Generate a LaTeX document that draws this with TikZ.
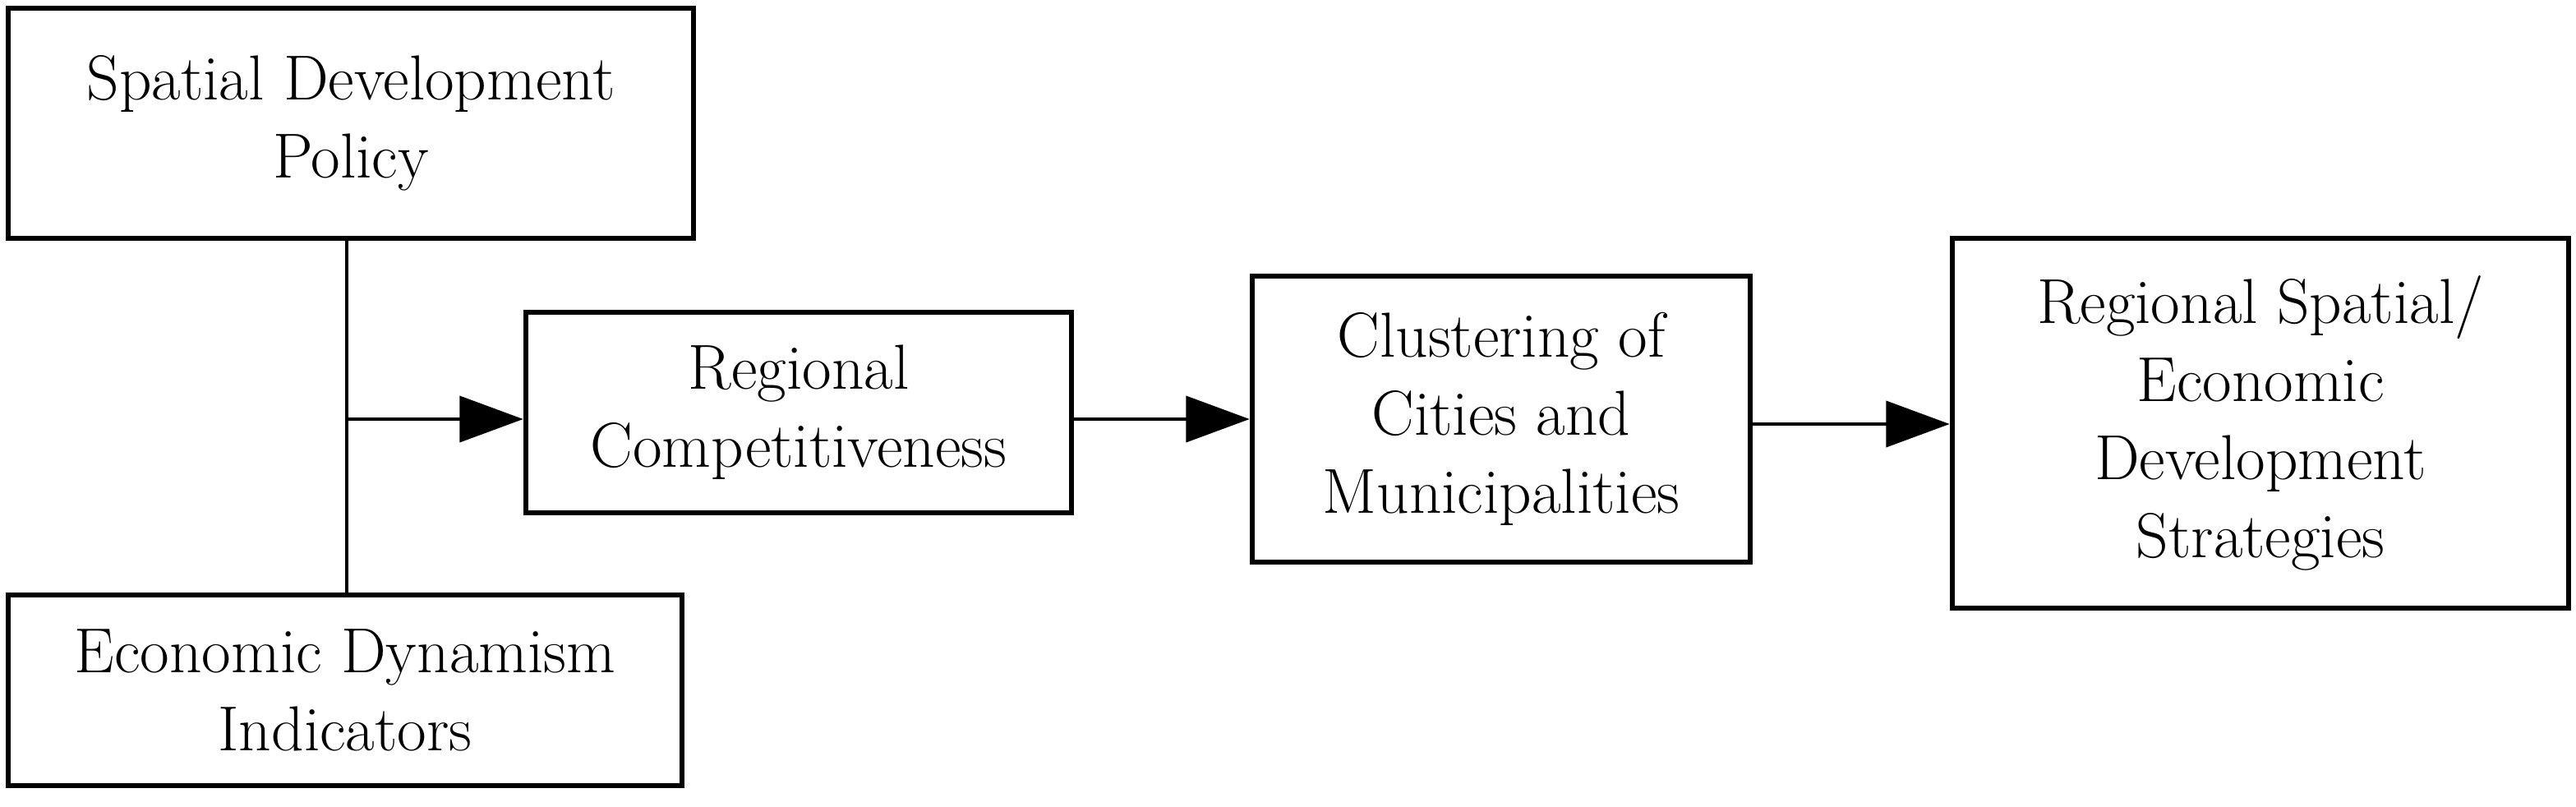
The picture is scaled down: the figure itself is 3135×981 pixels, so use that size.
\documentclass[tikz,border=0pt]{standalone}
\usetikzlibrary{arrows.meta}
\begin{document}
\begin{tikzpicture}[x=0.01cm,y=-0.01cm,
 box/.style={draw,line width=1.8pt,align=center,font=\fontsize{22}{27}\selectfont,inner sep=0pt},
 con/.style={line width=0.9pt},
 arr/.style={con,-{Triangle[length=22pt,width=16pt]}}]
\useasboundingbox (0,0) rectangle (3135,981);
\node[box,minimum width=834\pgflinewidth*0+8.34cm,minimum height=2.8cm] (sdp) at (427,150) {Spatial Development\\Policy};
\node[box,minimum width=8.2cm,minimum height=2.32cm] (edi) at (420,840) {Economic Dynamism\\Indicators};
\node[box,minimum width=6.64cm,minimum height=2.44cm] (rc) at (972,502) {Regional\\Competitiveness};
\node[box,minimum width=6.06cm,minimum height=3.48cm] (ccm) at (1827,510) {Clustering of\\Cities and\\Municipalities};
\node[box,minimum width=7.5cm,minimum height=4.5cm] (rs) at (2751,515) {Regional Spatial/\\Economic\\Development\\Strategies};
\coordinate (j) at (422,510);
\draw[con] (422,0 |- sdp.south) -- (422,0 |- edi.north);
\draw[arr] (j) -- (rc.west |- j);
\draw[arr] (rc.east |- j) -- (ccm.west |- j);
\draw[arr] (ccm.east |- 0,516) -- (rs.west |- 0,516);
\end{tikzpicture}
\end{document}
